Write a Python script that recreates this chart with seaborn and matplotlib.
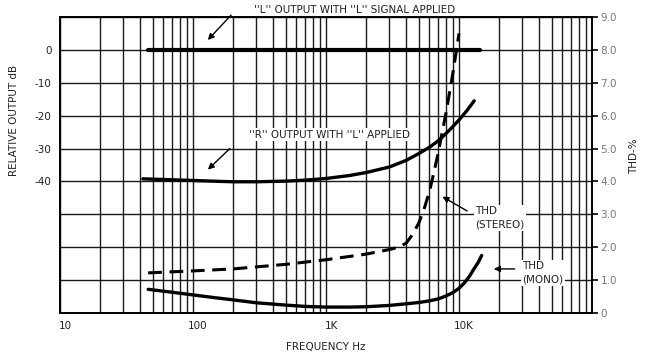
import numpy as np
import pandas as pd
import matplotlib
matplotlib.use("Agg")
import matplotlib.pyplot as plt
import matplotlib.transforms as mtransforms
from matplotlib.ticker import FixedLocator, FixedFormatter, NullFormatter
import seaborn as sns

# Data
freq_l = [46, 100, 1000, 10000, 14500]
out_l = [0, 0, 0, 0, 0]

freq_r = [42, 70, 100, 150, 200, 300, 500, 700, 1000, 1500, 2000, 3000, 4000,
          5000, 6000, 7000, 8000, 9000, 10000, 11500, 13000]
out_r = [-39.2, -39.5, -39.7, -39.95, -40.1, -40.1, -39.9, -39.6, -39.1, -38.2, -37.3,
         -35.6, -33.6, -31.5, -29.6, -27.6, -25.4, -23.3, -21.3, -18.4, -15.5]

freq_stereo = [46, 100, 200, 500, 1000, 2000, 3000, 3500, 4000, 4500, 5000, 5500,
               6000, 6500, 7000, 8000, 9000, 10000]
thd_stereo = [1.22, 1.28, 1.34, 1.48, 1.62, 1.79, 1.93, 2.0, 2.12, 2.4, 2.75, 3.2,
              3.7, 4.3, 4.9, 6.1, 7.3, 8.5]

freq_mono = [46, 70, 100, 150, 200, 300, 500, 700, 1000, 1500, 2000, 3000, 4000,
             5000, 6000, 7000, 8000, 9000, 10000, 11000, 12000, 13000, 14000, 14800]
thd_mono = [0.72, 0.63, 0.55, 0.46, 0.40, 0.31, 0.24, 0.20, 0.18, 0.18, 0.19, 0.23,
            0.28, 0.32, 0.37, 0.43, 0.52, 0.62, 0.75, 0.92, 1.12, 1.35, 1.55, 1.75]

x_ticks = [10, 100, 1000, 10000, 100000]
x_labels = ["10", "100", "1K", "10K", ""]
db_ticks = list(range(-80, 11, 10))
db_labels = ["", "", "", "", "-40", "-30", "-20", "-10", "0", ""]
thd_ticks = list(range(0, 10))
thd_labels = ["0", "1.0", "2.0", "3.0", "4.0", "5.0", "6.0", "7.0", "8.0", "9.0"]

sns.set_theme(style="white")
plt.rcParams["font.family"] = ["DejaVu Sans"]

fig = plt.figure(figsize=(6.46, 3.55), dpi=100)
ax = fig.add_axes([60 / 646, 1 - 313 / 355, 532 / 646, 296 / 355])
ax.set_xscale("log")
ax.set_xlim(10, 100000)
ax.set_ylim(-80, 10)

# graph paper grid
minor = [m * 10 ** e for e in range(1, 5) for m in range(2, 10)]
ax.xaxis.set_major_locator(FixedLocator(x_ticks))
ax.xaxis.set_major_formatter(FixedFormatter(x_labels))
ax.xaxis.set_minor_locator(FixedLocator(minor))
ax.xaxis.set_minor_formatter(NullFormatter())
ax.yaxis.set_major_locator(FixedLocator(db_ticks))
ax.yaxis.set_major_formatter(FixedFormatter(db_labels))
ax.grid(True, which="both", color="#1a1a1a", lw=1.0)
ax.tick_params(axis="both", which="both", length=0, labelsize=7.5, colors="#222")
ax.tick_params(axis="x", pad=6)
ax.tick_params(axis="y", pad=6)
for lab in ax.get_xticklabels():
    lab.set_transform(lab.get_transform() + mtransforms.ScaledTranslation(5 / 100, 0, fig.dpi_scale_trans))
for s in ax.spines.values():
    s.set_color("black")
    s.set_linewidth(1.4)

sns.lineplot(x=freq_l, y=out_l, ax=ax, color="black", lw=3.0, zorder=5)
sns.lineplot(x=freq_r, y=out_r, ax=ax, color="black", lw=2.4, zorder=5)

ax2 = ax.twinx()
ax2.set_ylim(0, 9)
ax2.yaxis.set_major_locator(FixedLocator(thd_ticks))
ax2.yaxis.set_major_formatter(FixedFormatter(thd_labels))
ax2.tick_params(axis="y", length=4, width=1.2, color="black", labelsize=7.5, labelcolor="#777", pad=2)
for s in ax2.spines.values():
    s.set_visible(False)

sns.lineplot(x=freq_stereo, y=thd_stereo, ax=ax2, color="black", lw=2.2, zorder=5)
ax2.lines[-1].set_linestyle((0, (4.5, 2.5)))
sns.lineplot(x=freq_mono, y=thd_mono, ax=ax2, color="black", lw=2.4, zorder=5)

ax.set_xlabel("FREQUENCY Hz", fontsize=7.5, labelpad=8, color="#222")
ax.set_ylabel("RELATIVE OUTPUT dB", fontsize=7.5, color="#222")
ax.yaxis.set_label_coords(-0.078, 0.65)
ax2.set_ylabel("THD-%", fontsize=7.5, color="#222", labelpad=12)
ax2.yaxis.set_label_coords(1.07, 0.53)

arrow = dict(arrowstyle="-|>", color="black", lw=1.0, mutation_scale=9)
box = dict(facecolor="white", edgecolor="none", pad=1.0)

ax.text(1630, 12.0, "''L'' OUTPUT WITH ''L'' SIGNAL APPLIED", fontsize=7.5, ha="center",
        va="center", color="#222", clip_on=False)
ax.annotate("", xy=(125, 2.4), xytext=(200, 11.2), arrowprops=arrow, annotation_clip=False)

ax.text(1070, -25.8, "''R'' OUTPUT WITH ''L'' APPLIED", fontsize=7.5, ha="center",
        va="center", color="#222", bbox=box, zorder=6)
ax.annotate("", xy=(125, -37), xytext=(196, -29.4), arrowprops=arrow)

ax2.text(13200, 2.89, "THD\n(STEREO)", fontsize=7.5, ha="left", va="center",
         linespacing=1.4, color="#222", bbox=box, zorder=6)
ax2.annotate("", xy=(7200, 3.58), xytext=(12000, 3.06), arrowprops=arrow)

ax2.text(30000, 1.22, "THD\n(MONO)", fontsize=7.5, ha="left", va="center",
         linespacing=1.4, color="#222", bbox=box, zorder=6)
ax2.annotate("", xy=(17400, 1.34), xytext=(27500, 1.34), arrowprops=arrow)

fig.savefig("out.png", dpi=100)
